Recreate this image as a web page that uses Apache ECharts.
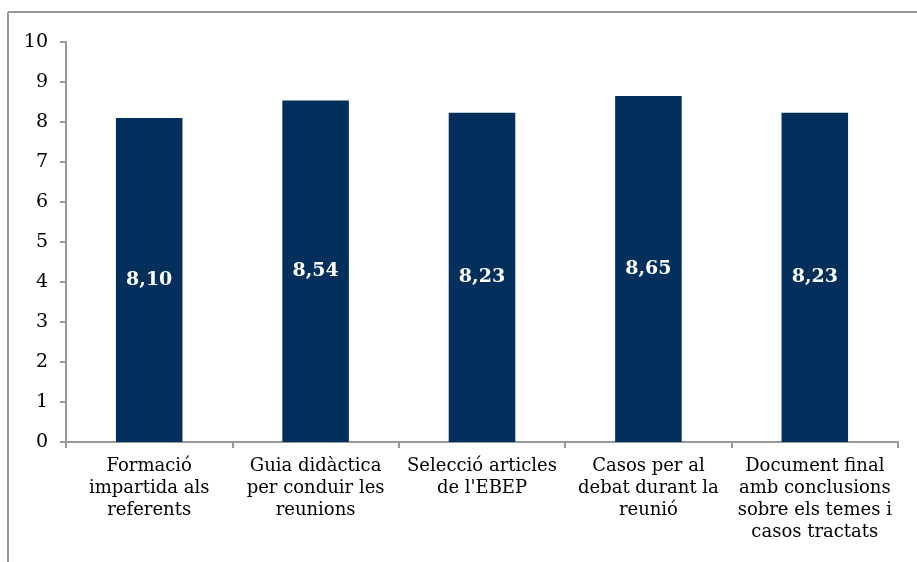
<!DOCTYPE html>
<html>
<head>
<meta charset="utf-8">
<script src="https://cdn.jsdelivr.net/npm/echarts@6/dist/echarts.min.js"></script>
<style>
  html, body { margin: 0; padding: 0; background: #fff; }
  #chart { width: 917px; height: 562px; }
</style>
</head>
<body>
<div id="chart"></div>
<script>
// categories (line breaks as in the original)
const categories = [
  'Formació\nimpartida als\nreferents',
  'Guia didàctica\nper conduir les\nreunions',
  'Selecció articles\nde l\'EBEP',
  'Casos per al\ndebat durant la\nreunió',
  'Document final\namb conclusions\nsobre els temes i\ncasos tractats'
];
const scores = [8.10, 8.54, 8.23, 8.65, 8.23];

const serif = '"DejaVu Serif", "Liberation Serif", serif';
const chart = echarts.init(document.getElementById('chart'));

chart.setOption({
  animation: false,
  graphic: [
    { type: 'line', shape: { x1: 8, y1: 12, x2: 917, y2: 12 }, style: { stroke: '#999', lineWidth: 2 } },
    { type: 'line', shape: { x1: 8, y1: 12, x2: 8, y2: 562 }, style: { stroke: '#999', lineWidth: 2 } }
  ],
  grid: { left: 66, right: 19, top: 42, bottom: 120 },
  xAxis: {
    type: 'category',
    data: categories,
    axisLine: { lineStyle: { color: '#999', width: 2 } },
    axisTick: { show: true, length: 6, lineStyle: { color: '#999', width: 2 } },
    axisLabel: {
      color: '#000', fontFamily: serif, fontSize: 18, lineHeight: 22,
      margin: 13, interval: 0
    }
  },
  yAxis: {
    type: 'value',
    min: 0, max: 10, interval: 1,
    splitLine: { show: false },
    axisLine: { show: true, lineStyle: { color: '#999', width: 2 } },
    axisTick: { show: true, length: 6, lineStyle: { color: '#999', width: 2 } },
    axisLabel: { color: '#000', fontFamily: serif, fontSize: 19, margin: 18 }
  },
  series: [{
    type: 'bar',
    data: scores,
    barWidth: '40%',
    itemStyle: { color: '#032f5c' },
    label: {
      show: true,
      position: 'inside',
      color: '#fff',
      fontFamily: serif,
      fontWeight: 'bold',
      fontSize: 19,
      formatter: p => p.value.toFixed(2).replace('.', ',')
    }
  }]
});
</script>
</body>
</html>
